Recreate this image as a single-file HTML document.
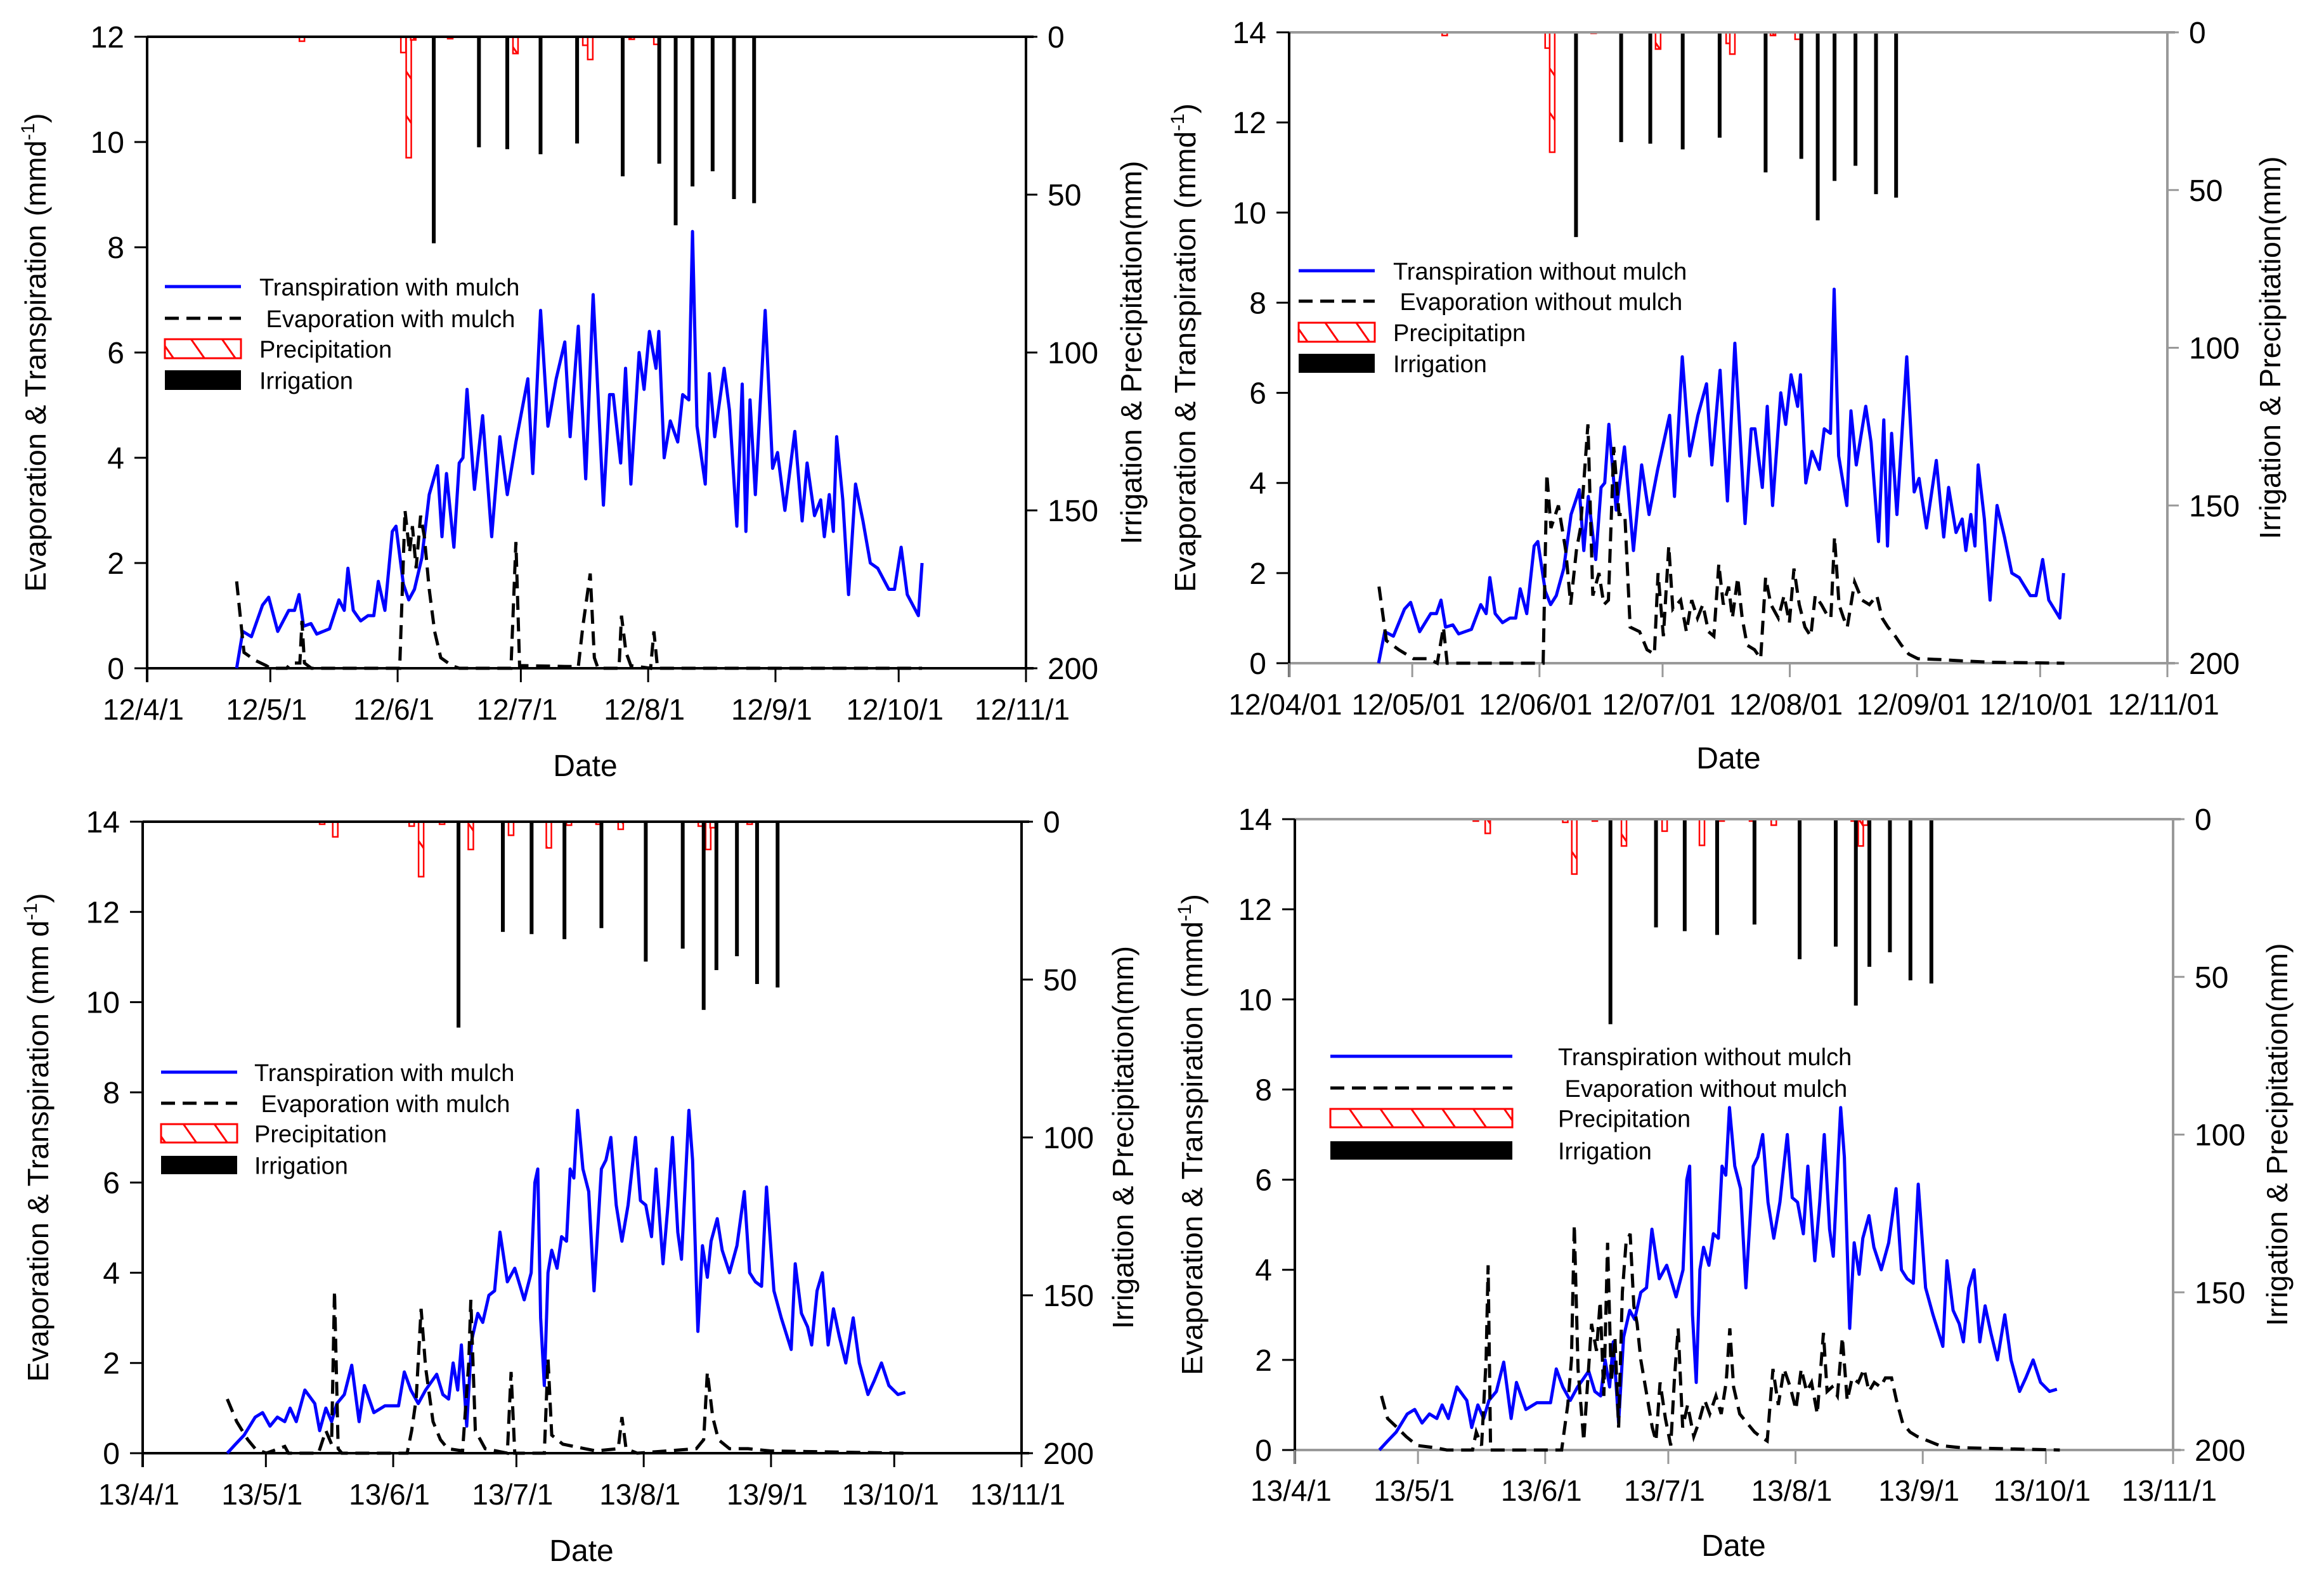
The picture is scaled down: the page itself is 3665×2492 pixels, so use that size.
<!DOCTYPE html>
<html><head><meta charset="utf-8"><style>
html,body{margin:0;padding:0;background:#fff;}
svg{display:block;font-family:"Liberation Sans",Arial,sans-serif;}
</style></head><body>
<svg id="chart" width="3665" height="2492" viewBox="0 0 3665 2492" xmlns="http://www.w3.org/2000/svg">
<defs>
<pattern id="hatch" patternUnits="userSpaceOnUse" width="40" height="40" patternTransform="rotate(-35)">
<rect width="40" height="40" fill="#fff"/><line x1="20" y1="0" x2="20" y2="40" stroke="#f00" stroke-width="3"/>
</pattern>
</defs>
</svg>
<script>
// ---- data (day index since Apr 1) ----
const xTickLabels12 = ["12/4/1","12/5/1","12/6/1","12/7/1","12/8/1","12/9/1","12/10/1","12/11/1"];
const xTickLabels12b = ["12/04/01","12/05/01","12/06/01","12/07/01","12/08/01","12/09/01","12/10/01","12/11/01"];
const xTickLabels13 = ["13/4/1","13/5/1","13/6/1","13/7/1","13/8/1","13/9/1","13/10/1","13/11/1"];
const xTickDays = [0,30,61,91,122,153,183,214];
const yTicks12 = [0,2,4,6,8,10,12];
const yTicks14 = [0,2,4,6,8,10,12,14];
const rTicks = [0,50,100,150,200];

const t12Days = [21.8,23.3,25.4,28.1,29.6,31.8,34.5,35.9,37.0,38.1,39.9,41.3,44.4,46.7,48.0,48.9,50.2,52.0,53.8,55.2,56.3,57.9,59.7,60.6,62.4,63.7,65.1,66.9,68.7,70.7,71.8,72.9,74.7,76.0,76.9,77.9,79.7,81.7,83.9,85.9,87.7,89.8,92.7,93.9,95.8,97.6,99.6,101.7,103.0,105.0,106.8,108.6,111.1,112.6,113.5,115.3,116.5,117.8,119.8,121.0,122.3,123.9,124.6,125.9,127.4,129.2,130.4,131.9,132.8,133.9,135.9,136.9,138.2,140.5,141.8,143.6,144.9,145.8,146.8,148.1,150.5,152.3,153.5,155.3,157.7,159.5,160.7,162.5,164.0,164.9,166.1,167.1,167.9,169.4,170.8,172.5,174.3,176.1,177.9,180.6,182.0,183.6,185.1,187.8,188.7];
const t12Vals = [0,0.7,0.6,1.2,1.35,0.7,1.1,1.1,1.4,0.8,0.85,0.65,0.75,1.3,1.1,1.9,1.1,0.9,1.0,1.0,1.65,1.1,2.6,2.7,1.6,1.3,1.5,2.1,3.3,3.85,2.5,3.7,2.3,3.9,4.0,5.3,3.4,4.8,2.5,4.4,3.3,4.3,5.5,3.7,6.8,4.6,5.5,6.2,4.4,6.5,3.6,7.1,3.1,5.2,5.2,3.9,5.7,3.5,6.0,5.3,6.4,5.7,6.4,4.0,4.7,4.3,5.2,5.1,8.3,4.6,3.5,5.6,4.4,5.7,4.9,2.7,5.4,2.6,5.1,3.3,6.8,3.8,4.1,3.0,4.5,2.8,3.9,2.9,3.2,2.5,3.3,2.6,4.4,3.2,1.4,3.5,2.8,2.0,1.9,1.5,1.5,2.3,1.4,1.0,2.0];

const e12mDays = [21.8,23.6,26.3,29,30,34,35,37.2,37.7,38.3,40,61.5,62.8,63.9,64.6,65.5,66.6,67.5,68.7,70,71.5,74.2,76,88.6,89.8,90.7,105,106.1,107.9,108.9,109.8,114.9,115.5,116.6,117.1,117.8,122.6,123.4,124.3,188.7];
const e12mVals = [1.65,0.3,0.15,0.05,0,0,0.1,0.1,0.9,0.1,0,0,3.0,2.2,2.7,1.9,2.9,2.5,1.5,0.7,0.2,0.05,0,0,2.4,0.05,0.03,0.8,1.8,0.2,0,0,1.0,0.3,0.2,0.05,0,0.7,0,0];

const e12nDays = [21.9,23.7,26.7,30.3,34,36.1,37.6,38.5,61.9,62.8,63.8,65.6,67.4,68.6,70,71,72.8,74,75.5,76.7,77.8,79.1,80.4,81.8,83.1,85.4,87.2,89,89.9,91.2,92.5,93.5,95.4,96.8,98.1,99.5,100.8,102.2,103.5,104.7,105.8,107.1,108,109.3,110.4,111.6,113.4,114.9,116.1,117.4,119.2,120.6,121.9,123,124.3,125.7,127.1,128.2,129.7,130.9,132,132.9,134,135.1,136,137.8,139.6,141.4,143.2,144.5,145.9,147.7,149.2,151,153.2,158.6,164,171.2,188.9];
const e12nVals = [1.7,0.5,0.3,0.1,0.1,0,0.8,0,0,4.2,3.0,3.5,2.5,1.3,2.5,3.0,5.3,1.5,2.0,1.3,1.4,4.8,3.3,3.3,0.8,0.7,0.3,0.2,2.0,0.6,2.6,1.2,1.4,0.7,1.4,1.0,1.3,0.7,0.6,2.2,1.3,1.7,1.0,1.9,1.0,0.4,0.3,0.1,1.9,1.3,1.0,1.5,0.9,2.1,1.3,0.8,0.6,1.5,1.3,1.1,1.0,2.8,1.3,1.0,0.8,1.8,1.4,1.3,1.5,1.0,0.8,0.6,0.4,0.2,0.1,0.08,0.05,0.02,0];

const t13Days = [20.6,22.6,24.7,27.4,29.2,31,32.8,34.6,35.9,37.4,39.5,41.9,43.1,44.6,46,47.3,49.1,50.9,52.7,54,56.3,59,62.3,63.7,65.3,67.1,68.9,71.6,73.1,74.5,75.6,76.7,77.6,78.9,80.1,81.6,82.8,84.3,85.7,87,88.8,90.6,92.9,94.6,95.5,96.2,96.9,97.8,98.7,99.6,100.9,102,103.2,104.1,105,105.9,107.2,108.6,109.9,111.7,112.8,114,115.3,116.7,118.2,120,121.2,122.5,123.9,125,126.7,127.9,129,130.3,131.2,133,133.9,135.2,136.3,137.5,138.4,139.9,141.1,142.9,144.7,146.5,147.8,149.2,150.7,151.9,153.7,155.5,157.9,158.9,160.4,161.9,162.9,164.2,165.5,166.9,168.2,169.6,171.2,173,174.5,176.6,178.1,179.9,181.7,183.9,185.7];
const t13Vals = [0,0.2,0.4,0.8,0.9,0.6,0.8,0.7,1.0,0.7,1.4,1.1,0.5,1.0,0.7,1.1,1.3,1.95,0.7,1.5,0.9,1.05,1.05,1.8,1.4,1.1,1.4,1.75,1.3,1.2,2.0,1.4,2.4,0.6,2.5,3.1,2.9,3.5,3.6,4.9,3.8,4.1,3.4,4.0,6.0,6.3,3.0,1.5,4.0,4.5,4.1,4.8,4.7,6.3,6.1,7.6,6.3,5.8,3.6,6.3,6.5,7.0,5.5,4.7,5.5,7.0,5.6,5.5,4.8,6.3,4.2,5.5,7.0,4.9,4.3,7.6,6.5,2.7,4.6,3.9,4.7,5.2,4.5,4.0,4.6,5.8,4.0,3.8,3.7,5.9,3.6,3.0,2.3,4.2,3.1,2.8,2.4,3.6,4.0,2.4,3.2,2.6,2.0,3.0,2.0,1.3,1.6,2.0,1.5,1.3,1.35];

const e13mDays = [20.6,22.9,25.6,27.4,30.1,34.6,35.5,42.8,44.6,46,46.7,47.6,48.5,64.4,65.5,66.6,67.8,68.9,70.7,72.5,74.3,77.9,79.4,79.9,81,83.4,88.8,89.7,90.6,97.8,98.7,99.6,102.3,107.7,110.4,115.8,116.7,117.7,120.4,134.8,136.6,137.5,138.8,140.2,142.9,147.4,152.8,185.3];
const e13mVals = [1.2,0.7,0.3,0.1,0,0.15,0,0,0.5,0.2,3.6,0.1,0,0,0.5,1.2,3.2,1.9,0.7,0.3,0.1,0.05,2.0,3.4,0.5,0.1,0,1.8,0,0,2.1,0.4,0.2,0.1,0.05,0.1,0.8,0.1,0,0.1,0.3,1.8,0.8,0.3,0.1,0.1,0.05,0];

const e13nDays = [21.1,22.6,24.9,27.1,29.8,34.3,37,43.3,44.2,45.5,46.6,47.1,47.7,65,66.5,67.4,68.1,69,70.4,72.3,73.5,74.4,75.3,76.2,77.1,78,78.9,79.8,80.7,81.7,82.6,83.4,84.3,85.8,87.1,88,89,90.3,91.6,92.5,93.4,94.5,95.7,97.2,98.4,99.9,101.1,102.6,103.9,105.1,106,106.9,108.4,110.2,112,113.4,115.1,116.5,117.8,119.2,120.7,122.1,123.4,124.7,125.9,127.3,128.8,129.7,130.9,132.2,133.4,134.6,135.8,137.3,138.7,139.9,141.2,142.7,143.9,145.4,146.6,148.1,149.9,151.7,154.4,157.1,162.5,186.4];
const e13nVals = [1.2,0.7,0.5,0.3,0.1,0.05,0,0,0.4,0.1,2.0,4.1,0,0,1.0,2.0,5.0,1.8,0.2,2.8,2.2,3.3,1.2,4.6,1.5,2.5,0.5,3.5,4.6,4.8,3.2,2.8,2.0,1.2,0.5,0.2,1.5,0.7,0.1,1.6,2.7,0.5,1.0,0.3,0.6,1.1,0.8,1.2,0.8,1.5,2.7,1.4,0.8,0.6,0.4,0.3,0.2,1.8,1.0,1.8,1.4,0.9,1.8,1.3,1.5,0.8,2.6,1.3,1.4,1.2,2.5,1.1,1.6,1.5,1.8,1.3,1.5,1.4,1.6,1.6,1.1,0.6,0.4,0.3,0.2,0.1,0.05,0];

const irr12aDays = [69.8,80.8,87.7,95.8,104.7,115.8,124.7,128.7,132.8,137.7,142.9,147.8];
const irr12aMm = [65.4,35,35.6,37.2,33.8,44.2,40.2,59.7,47.4,42.6,51.4,52.7];
const pre12aDays = [37.7,62.4,63.7,64.8,73.8,89.7,106.7,107.9,118,124];
const pre12aMm = [1.4,5,38.3,1,0.6,5.3,2.7,7.2,0.8,2.4];

const irr12bDays = [69.9,80.9,88,95.9,104.9,116.1,124.8,128.8,132.9,138,143,147.9];
const irr12bMm = [64.9,34.8,35.3,37.1,33.4,44.4,40.1,59.6,47.1,42.3,51.3,52.4];
const pre12bDays = [37.9,63,64.1,74.2,89.9,107.1,108,117.9,123.9];
const pre12bMm = [1,5,38,0.3,5.3,3.5,6.9,1,2.2];

const irr13aDays = [76.9,87.7,94.7,102.7,111.7,122.5,131.5,136.6,139.7,144.7,149.6,154.6];
const irr13aMm = [65.2,34.9,35.6,37.2,33.7,44.3,40.2,59.6,47,42.6,51.4,52.5];
const pre13aDays = [43.7,46.9,65.5,67.8,72.9,79.9,89.7,98.9,103.8,111,116.4,135.9,137.7,138.8,147.8];
const pre13aMm = [0.8,4.8,1.4,17.4,0.8,8.8,4.3,8.3,1.1,0.8,2.4,1.4,8.8,1.9,0.8];

const irr13bDays = [76.9,88,95,102.9,112,123,131.8,136.7,140,145,150,155.1];
const irr13bMm = [65,34.3,35.5,36.7,33.4,44.4,40.4,59.1,46.8,42.2,51.1,52.1];
const pre13bDays = [44.1,47,65.9,68.1,73.1,80.2,90.1,99.2,104,111.4,116.7,136.2,137.9,139];
const pre13bMm = [0.6,4.5,1,17.4,0.6,8.5,3.8,8.3,0.6,0.6,1.9,0.6,8.5,1.9];

// ---- layout ----
const svg = document.getElementById('chart');
const NS = 'http://www.w3.org/2000/svg';
function mk(tag, attrs, parent){const e=document.createElementNS(NS,tag);for(const k in attrs)e.setAttribute(k,attrs[k]);(parent||svg).appendChild(e);return e;}
function txt(x,y,s,size,anchor,parent,name){const t=mk('text',{x:x,y:y,'font-size':size,'text-anchor':anchor||'start',fill:'#000'},parent);t.textContent=s;


return t;}

const panels = [
 {id:'p1',L:232,R:1618,T:58,B:1054,ymax:12,yt:yTicks12,xl:xTickLabels12,frame:'#000',
  tD:t12Days,tV:t12Vals,eD:e12mDays,eV:e12mVals,iD:irr12aDays,iM:irr12aMm,pD:pre12aDays,pM:pre12aMm,
  ylab:['Evaporation & Transpiration (mmd','-1',')'],ylx:72,ylen:755,rlx:1800,rlen:605,dateX:923,dateY:1224,xtY:1135,
  leg:{x1:260,x2:380,yT:452,yE:502,pY:535,pH:30,iY:584,iH:31,tx:409,labels:['Transpiration with mulch',' Evaporation with mulch','Precipitation','Irrigation']}},
 {id:'p2',L:2033,R:3418,T:51,B:1046,ymax:14,yt:yTicks14,xl:xTickLabels12b,frame:'#999',
  tD:t12Days,tV:t12Vals,eD:e12nDays,eV:e12nVals,iD:irr12bDays,iM:irr12bMm,pD:pre12bDays,pM:pre12bMm,
  ylab:['Evaporation & Transpiration (mmd','-1',')'],ylx:1885,ylen:771,rlx:3596,rlen:604,dateX:2726,dateY:1212,xtY:1127,
  leg:{x1:2048,x2:2168,yT:427,yE:475,pY:509,pH:30,iY:558,iH:30,tx:2197,labels:['Transpiration without mulch',' Evaporation without mulch','Precipitatipn','Irrigation']}},
 {id:'p3',L:225,R:1611,T:1296,B:2292,ymax:14,yt:yTicks14,xl:xTickLabels13,frame:'#000',
  tD:t13Days,tV:t13Vals,eD:e13mDays,eV:e13mVals,iD:irr13aDays,iM:irr13aMm,pD:pre13aDays,pM:pre13aMm,
  ylab:['Evaporation & Transpiration (mm d','-1',')'],ylx:76,ylen:771,rlx:1787,rlen:604,dateX:917,dateY:2462,xtY:2373,
  leg:{x1:254,x2:374,yT:1691,yE:1740,pY:1773,pH:29,iY:1823,iH:29,tx:401,labels:['Transpiration with mulch',' Evaporation with mulch','Precipitation','Irrigation']}},
 {id:'p4',L:2042,R:3427,T:1292,B:2287,ymax:14,yt:yTicks14,xl:xTickLabels13,frame:'#999',
  tD:t13Days,tV:t13Vals,eD:e13nDays,eV:e13nVals,iD:irr13bDays,iM:irr13bMm,pD:pre13bDays,pM:pre13bMm,
  ylab:['Evaporation & Transpiration (mmd','-1',')'],ylx:1896,ylen:759,rlx:3607,rlen:604,dateX:2734,dateY:2454,xtY:2367,
  leg:{x1:2098,x2:2385,yT:1666,yE:1716,pY:1749,pH:29,iY:1800,iH:29,tx:2457,labels:['Transpiration without mulch',' Evaporation without mulch','Precipitation','Irrigation']}}
];

panels.forEach(p=>{
 const g = mk('g',{});
 
 
 const xs = d => p.L + d/214*(p.R-p.L);
 const ys = v => p.B - v/p.ymax*(p.B-p.T);
 const yr = mm => p.T + mm/200*(p.B-p.T);

 p.pD.forEach((d,i)=>{
  const r = mk('rect',{x:xs(d)-4,y:yr(0),width:8,height:Math.max(yr(p.pM[i])-yr(0),1.5),fill:'url(#hatch)',stroke:'#f00','stroke-width':2.5},g);
  
  
 });
 p.iD.forEach((d,i)=>{
  const r = mk('rect',{x:xs(d)-3,y:yr(0),width:6,height:yr(p.iM[i])-yr(0),fill:'#000'},g);
  
  
 });

 const fr = mk('g',{stroke:p.frame,'stroke-width':4,fill:'none'},g);
 
 
 mk('line',{x1:p.L,y1:p.T,x2:p.R+12,y2:p.T},fr);
 mk('line',{x1:p.L,y1:p.B,x2:p.R+12,y2:p.B},fr);
 mk('line',{x1:p.R,y1:p.T,x2:p.R,y2:p.B},fr);
 const la = mk('line',{x1:p.L,y1:p.T,x2:p.L,y2:p.B+22,stroke:'#000','stroke-width':4},g);
 
 

 p.yt.forEach(v=>{
  mk('line',{x1:p.L-20,y1:ys(v),x2:p.L,y2:ys(v),stroke:'#000','stroke-width':3},g);
  txt(p.L-36,ys(v)+17,String(v),48,'end',g,'y-tick-label');
 });
 rTicks.forEach(v=>{
  mk('line',{x1:p.R,y1:yr(v),x2:p.R+18,y2:yr(v),stroke:p.frame,'stroke-width':3},g);
  txt(p.R+34,yr(v)+17,String(v),48,'start',g,'right-tick-label');
 });
 xTickDays.forEach((d,i)=>{
  mk('line',{x1:xs(d),y1:p.B,x2:xs(d),y2:p.B+22,stroke:p.frame,'stroke-width':3},g);
  txt(xs(d)-6,p.xtY,p.xl[i],46,'middle',g,'x-tick-label');
 });

 function path(D,V){let s='';const n=Math.min(D.length,V.length);for(let i=0;i<n;i++)s+=(i?'L':'M')+xs(D[i]).toFixed(1)+','+ys(V[i]).toFixed(1);return s;}
 const tl = mk('path',{d:path(p.tD,p.tV),fill:'none',stroke:'#0000ff','stroke-width':5,'stroke-linejoin':'round'},g);
 
 
 const el = mk('path',{d:path(p.eD,p.eV),fill:'none',stroke:'#000','stroke-width':5,'stroke-dasharray':'22 12'},g);
 
 

 const yl = mk('text',{transform:'translate('+p.ylx+','+(p.T+p.B)/2+') rotate(-90)','text-anchor':'middle','font-size':46,textLength:p.ylen,lengthAdjust:'spacingAndGlyphs'},g);
 
 
 yl.innerHTML = p.ylab[0]+'<tspan dy="-18" font-size="30">'+p.ylab[1]+'</tspan><tspan dy="18">'+p.ylab[2]+'</tspan>';
 const rl = mk('text',{transform:'translate('+p.rlx+','+(p.T+p.B)/2+') rotate(-90)','text-anchor':'middle','font-size':46,textLength:p.rlen,lengthAdjust:'spacingAndGlyphs'},g);
 
 
 rl.textContent='Irrigation & Precipitation(mm)';
 txt(p.dateX,p.dateY,'Date',48,'middle',g,'x-axis-title');

 const L = p.leg;
 const lg = mk('g',{},g);
 
 
 mk('line',{x1:L.x1,y1:L.yT,x2:L.x2,y2:L.yT,stroke:'#0000ff','stroke-width':5},lg);
 mk('line',{x1:L.x1,y1:L.yE,x2:L.x2,y2:L.yE,stroke:'#000','stroke-width':5,'stroke-dasharray':'22 12'},lg);
 mk('rect',{x:L.x1,y:L.pY,width:L.x2-L.x1,height:L.pH,fill:'url(#hatch)',stroke:'#f00','stroke-width':3},lg);
 mk('rect',{x:L.x1,y:L.iY,width:L.x2-L.x1,height:L.iH,fill:'#000'},lg);
 const ly=[L.yT,L.yE,L.pY+L.pH/2,L.iY+L.iH/2];
 L.labels.forEach((s,i)=>{const t=txt(L.tx,ly[i]+14,s,38,'start',lg,'legend-label');t.setAttribute('xml:space','preserve');t.style.whiteSpace='pre';});
});
</script>
</body></html>
